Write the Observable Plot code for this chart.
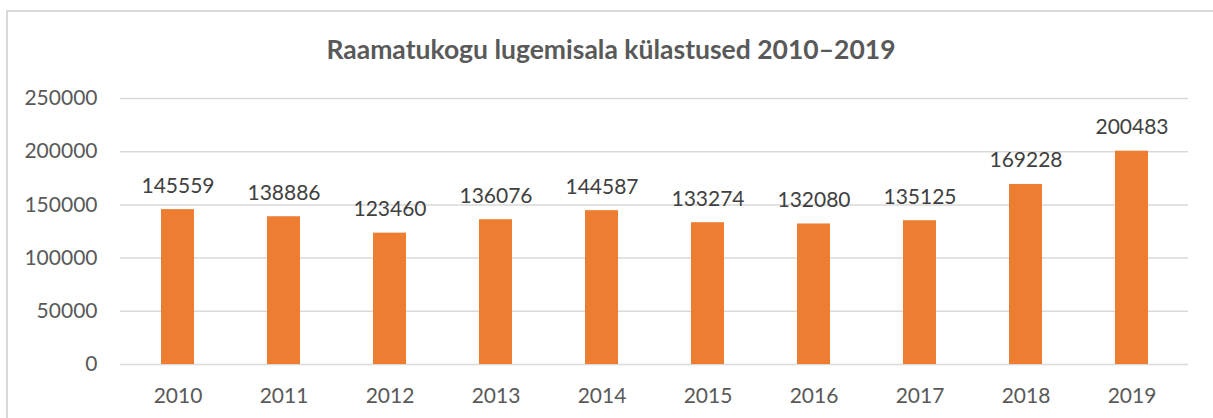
<!DOCTYPE html>
<html><head><meta charset="utf-8">
<script src="https://cdn.jsdelivr.net/npm/d3@7"></script>
<script src="https://cdn.jsdelivr.net/npm/@observablehq/plot@0.6"></script>
<style>
body{margin:0;background:#fff;font-family:Lato,"Open Sans",sans-serif;}
#wrap{position:relative;width:1213px;height:418px;overflow:hidden;}
#frame{position:absolute;left:6px;top:10px;width:1220px;height:420px;border:2px solid #d9d9d9;box-sizing:border-box;}
#title{position:absolute;top:33px;left:0;width:1222px;text-align:center;font-size:26.5px;font-weight:bold;color:#595959;line-height:32px;}
#chart{position:absolute;left:0;top:80px;}
</style></head>
<body><div id="wrap"><div id="frame"></div><div id="title">Raamatukogu lugemisala külastused 2010–2019</div><div id="chart"></div></div>
<script>
const years = ["2010","2011","2012","2013","2014","2015","2016","2017","2018","2019"];
const visits = [145559,138886,123460,136076,144587,133274,132080,135125,169228,200483];
const yTicks = [0,50000,100000,150000,200000,250000];
const data = years.map((y,i)=>({year:y,value:visits[i]}));
const chart = Plot.plot({
  width:1213, height:338,
  marginLeft:120, marginRight:25, marginTop:18, marginBottom:54,
  style:{fontFamily:"Lato, 'Open Sans', sans-serif", fontSize:"21px", color:"#595959", background:"transparent"},
  x:{domain:years, paddingInner:0.69, paddingOuter:0.345, label:null, tickSize:0, tickPadding:24},
  y:{domain:[0,250000], ticks:yTicks, label:null, tickSize:0, tickPadding:23, tickFormat:d=>String(d)},
  marks:[
    Plot.ruleY(yTicks,{stroke:"#d9d9d9", strokeWidth:1.5}),
    Plot.barY(data,{x:"year", y:"value", fill:"#ed7d31"}),
    Plot.text(data,{x:"year", y:"value", text:d=>String(d.value), lineAnchor:"bottom", dy:-17, fill:"#404040", fontSize:21})
  ]
});
document.getElementById("chart").appendChild(chart);
</script></body></html>
